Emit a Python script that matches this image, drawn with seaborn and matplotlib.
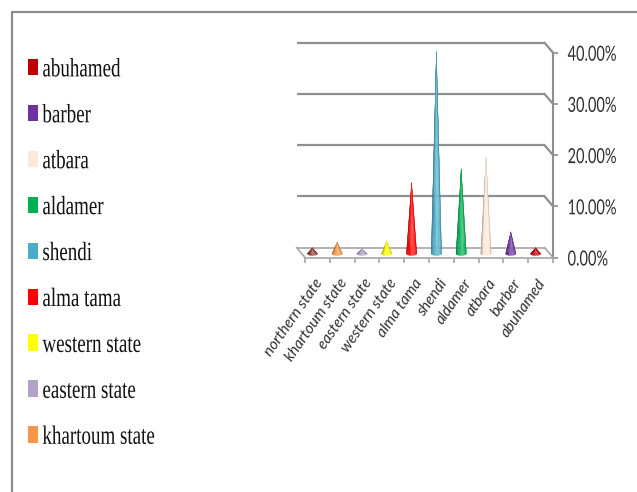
import numpy as np
import pandas as pd
import matplotlib
matplotlib.use("Agg")
import matplotlib.pyplot as plt
import matplotlib.colors as mcolors
import seaborn as sns
from matplotlib.collections import PolyCollection
from matplotlib.lines import Line2D
from matplotlib.patches import Patch
from matplotlib.patheffects import AbstractPathEffect
from matplotlib.transforms import Affine2D, ScaledTranslation

categories = ["northern state", "khartoum state", "eastern state", "western state",
              "alma tama", "shendi", "aldamer", "atbara", "barber", "abuhamed"]
shares = [1.1, 2.2, 0.9, 2.4, 13.8, 39.4, 16.5, 18.7, 4.2, 1.1]
cone_colors = ["#953735", "#F79646", "#B3A2C7", "#FFFF00", "#FF0000",
               "#4BACC6", "#00B050", "#FDE9D9", "#7030A0", "#C00000"]
legend_labels = ["abuhamed", "barber", "atbara", "aldamer", "shendi",
                 "alma tama", "western state", "eastern state", "khartoum state"]
y_ticks = [0, 10, 20, 30, 40]

W, H = 637, 492
DPI = 100


class Narrow(AbstractPathEffect):
    """Draw glyphs condensed along the text baseline."""

    def __init__(self, factor):
        super().__init__()
        self.factor = factor

    def draw_path(self, renderer, gc, tpath, affine, rgbFace=None):
        renderer.draw_path(gc, tpath, Affine2D().scale(self.factor, 1) + affine, rgbFace)


sns.set_theme(style="white")
plt.rcParams["font.family"] = ["Lato", "DejaVu Sans"]

fig = plt.figure(figsize=(W / DPI, H / DPI), dpi=DPI, facecolor="white")
ax = fig.add_axes([305 / W, (H - 257.5) / H, 248 / W, 204.8 / H])

frame = pd.DataFrame({"site": categories, "share": shares})
sns.barplot(data=frame, x="site", y="share", order=categories, ax=ax, width=0.42, errorbar=None)
ax.set_xlim(-0.5, 9.5)
ax.set_ylim(0, 40)
ax.set_xlabel("")
ax.set_ylabel("")
ax.patch.set_alpha(0)

GRID = "#8f8f8f"
FLOOR = "#a6a6a6"


def shifted(dx, dy):
    """Data coordinates moved dx pixels right and dy pixels up."""
    return ax.transData + ScaledTranslation(dx / DPI, dy / DPI, fig.dpi_scale_trans)


# Back wall gridlines and their diagonals down to the value axis
back = shifted(-8.5, 10)
for v in y_ticks:
    width = 1.6 if v else 1.2
    ax.plot([-0.5, 9.5], [v, v], color=GRID if v else FLOOR, lw=width, transform=back, clip_on=False,
            solid_capstyle="butt")
    x0, y0 = back.transform((9.5, v))
    x1, y1 = ax.transData.transform((9.5, v))
    fig.add_artist(Line2D([x0 / W, x1 / W], [y0 / H, y1 / H], color=GRID if v else FLOOR, lw=width))

# Floor edge on the left side
x0, y0 = back.transform((-0.5, 0))
x1, y1 = ax.transData.transform((-0.5, 0))
fig.add_artist(Line2D([x0 / W, x1 / W], [y0 / H, y1 / H], color=FLOOR, lw=1.2))

# Replace each bar with a shaded cone standing on the middle of the floor
cone_tf = shifted(-5, 4)
profile = np.array([0.62, 0.72, 0.85, 1.0, 1.12, 1.2, 1.2, 1.1, 0.95, 0.78])
for bar, color in zip(ax.patches, cone_colors):
    cx = bar.get_x() + bar.get_width() / 2
    half = bar.get_width() / 2
    apex = bar.get_height()
    bar.set_visible(False)
    theta = np.linspace(np.pi, 2 * np.pi, 11)
    rim_x = cx + half * np.cos(theta)
    rim_y = 0.4 * np.sin(theta)
    rgb = np.array(mcolors.to_rgb(color))
    strips, shades = [], []
    for i, p in enumerate(profile):
        strips.append([(cx, apex), (rim_x[i], rim_y[i]), (rim_x[i + 1], rim_y[i + 1])])
        shade = rgb * p if p <= 1 else rgb + (1 - rgb) * (p - 1) * 1.2
        shades.append(np.clip(shade, 0, 1))
    ax.add_collection(PolyCollection(strips, facecolors=shades, edgecolors=shades, linewidths=0.2,
                                     transform=cone_tf, clip_on=False, zorder=3))

# Axes: value axis on the right, category axis along the front of the floor
for name in ("top", "left"):
    ax.spines[name].set_visible(False)
ax.spines["right"].set_color(GRID)
ax.spines["right"].set_linewidth(1.5)
ax.spines["bottom"].set_color(FLOOR)
ax.spines["bottom"].set_linewidth(1.2)

ax.yaxis.tick_right()
ax.set_yticks(y_ticks)
ax.set_yticklabels([f"{v:.2f}%" for v in y_ticks])
ax.tick_params(axis="y", length=3.5, width=1.2, color=GRID, pad=7, labelsize=15, labelcolor="#303030")
for label in ax.get_yticklabels():
    label.set_path_effects([Narrow(0.70)])

ax.set_xticks(np.arange(-0.5, 10), minor=True)
ax.tick_params(axis="x", which="minor", bottom=True, length=3.5, width=1.2, color=FLOOR)
ax.tick_params(axis="x", which="major", bottom=False, length=3.5, pad=13, labelsize=11, labelcolor="#303030")
nudge = ScaledTranslation(2.5 / DPI, 0, fig.dpi_scale_trans)
for label in ax.get_xticklabels():
    label.set_rotation(55)
    label.set_rotation_mode("anchor")
    label.set_ha("right")
    label.set_va("center")
    label.set_fontstyle("italic")
    label.set_transform(label.get_transform() + nudge)

# Legend in the left panel
handles = [Patch(facecolor=dict(zip(categories, cone_colors))[n], edgecolor="none") for n in legend_labels]
legend = fig.legend(handles, legend_labels, loc="upper left", bbox_to_anchor=(20 / W, 1 - 51 / H),
                    bbox_transform=fig.transFigure, frameon=False, prop={"family": "Liberation Serif", "size": 19},
                    handlelength=0.4, handleheight=0.57, handletextpad=0.15, labelspacing=0.89,
                    labelcolor="#111111", borderpad=0.3, borderaxespad=0)
for text in legend.get_texts():
    text.set_path_effects([Narrow(0.72)])

# Outer frame of the panel
fig.add_artist(Line2D([11.5 / W, 11.5 / W, 1], [0, 1 - 11.5 / H, 1 - 11.5 / H], color="#8c8c8c", lw=1.6))

fig.savefig("out.png", dpi=DPI, facecolor="white")
